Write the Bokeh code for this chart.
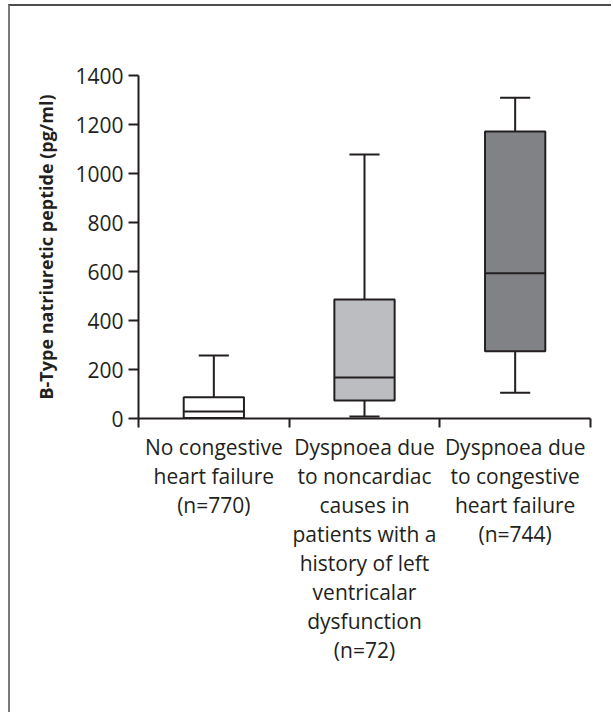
from bokeh.plotting import figure
from bokeh.models import Range1d, FixedTicker
from bokeh.embed import file_html
from bokeh.resources import INLINE

# ---- data ----
categories = [
    "No congestive\nheart failure\n(n=770)",
    "Dyspnoea due\nto noncardiac\ncauses in\npatients with a\nhistory of left\nventricalar\ndysfunction\n(n=72)",
    "Dyspnoea due\nto congestive\nheart failure\n(n=744)",
]
lower = [0, 8, 105]
q1 = [2, 73, 275]
median = [29, 167, 593]
q3 = [87, 486, 1171]
upper = [257, 1078, 1309]
fills = ["#ffffff", "#bcbdc0", "#808285"]
y_ticks = [0, 200, 400, 600, 800, 1000, 1200, 1400]

FONT = "Open Sans"
INK = "#231f20"

pos = [i + 0.5 for i in range(len(categories))]
box_w = 0.40
cap_w = 0.20

p = figure(width=603, height=708, output_backend="svg", toolbar_location=None,
           x_range=Range1d(0, len(categories)), y_range=Range1d(0, 1400),
           min_border_left=128, min_border_right=23, min_border_top=69, min_border_bottom=296)
p.styles = {"border-top": "2px solid #4d4d4d", "border-left": "2px solid #7a7a7a",
            "margin-top": "4px", "margin-left": "8px"}

p.xgrid.visible = False
p.ygrid.visible = False
p.outline_line_color = None
p.background_fill_color = "white"
p.border_fill_color = "white"

# whiskers
p.segment(x0=pos, x1=pos, y0=q3, y1=upper, line_color=INK, line_width=2)
p.segment(x0=pos, x1=pos, y0=lower, y1=q1, line_color=INK, line_width=2)
p.segment(x0=[x - cap_w / 2 for x in pos], x1=[x + cap_w / 2 for x in pos], y0=upper, y1=upper,
          line_color=INK, line_width=2)
p.segment(x0=[x - cap_w / 2 for x in pos], x1=[x + cap_w / 2 for x in pos], y0=lower, y1=lower,
          line_color=INK, line_width=2)
# boxes
p.vbar(x=pos, width=box_w, bottom=q1, top=q3, fill_color=fills, line_color=INK, line_width=2)
# medians
p.segment(x0=[x - box_w / 2 for x in pos], x1=[x + box_w / 2 for x in pos], y0=median, y1=median,
          line_color=INK, line_width=2)

# x axis
xa = p.xaxis[0]
xa.ticker = FixedTicker(ticks=pos, minor_ticks=list(range(len(categories) + 1)))
xa.major_label_overrides = {x: c for x, c in zip(pos, categories)}
xa.major_tick_out = 0
xa.major_tick_in = 0
xa.minor_tick_out = 9
xa.minor_tick_in = 0
xa.minor_tick_line_width = 2
xa.minor_tick_line_color = INK
xa.axis_line_width = 2
xa.axis_line_color = INK
xa.major_label_text_font = FONT
xa.major_label_text_font_size = "21px"
xa.major_label_text_color = INK
xa.major_label_text_line_height = 1.04
xa.major_label_standoff = 5

# y axis
ya = p.yaxis[0]
ya.ticker = FixedTicker(ticks=y_ticks)
ya.major_tick_out = 10
ya.major_tick_in = 0
ya.minor_tick_out = 0
ya.minor_tick_in = 0
ya.major_tick_line_width = 2
ya.major_tick_line_color = INK
ya.axis_line_width = 2
ya.axis_line_color = INK
ya.major_label_text_font = FONT
ya.major_label_text_font_size = "21px"
ya.major_label_text_color = INK
ya.major_label_standoff = 5
ya.axis_label = "B-Type natriuretic peptide (pg/ml)"
ya.axis_label_text_font = FONT
ya.axis_label_text_font_style = "bold"
ya.axis_label_text_font_size = "18px"
ya.axis_label_text_color = INK
ya.axis_label_standoff = 14

open("out.html", "w").write(file_html(p, INLINE))
